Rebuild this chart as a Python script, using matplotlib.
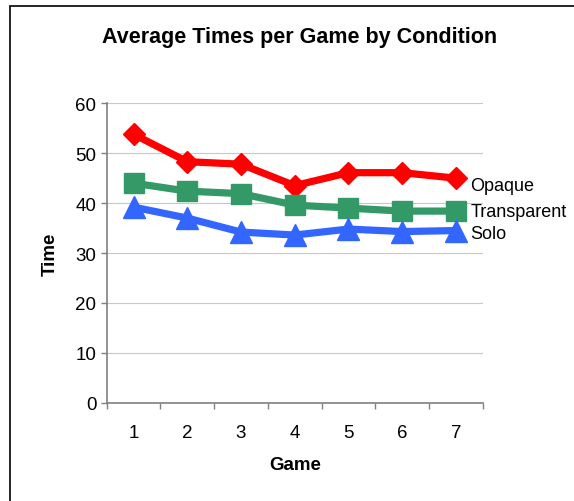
import matplotlib.pyplot as plt
from matplotlib.patches import Rectangle

plt.rcParams['font.family'] = ['Liberation Sans', 'DejaVu Sans']

games = [1, 2, 3, 4, 5, 6, 7]
opaque = [53.8, 48.3, 47.8, 43.5, 46.1, 46.1, 45.0]
transparent = [44.0, 42.4, 41.9, 39.6, 39.0, 38.4, 38.4]
solo = [39.2, 37.0, 34.2, 33.6, 34.8, 34.3, 34.5]

series = [
    ('Opaque', opaque, '#FF0000', 'D', 11.5, -5),
    ('Transparent', transparent, '#339966', 's', 15, 0),
    ('Solo', solo, '#3366FF', '^', 16, -2),
]

fig = plt.figure(figsize=(5.74, 5.02), dpi=100)
ax = fig.add_axes([0.1859, 0.1958, 0.655, 0.5964])

# frame round the chart area (right/bottom sides fall outside the picture)
fig.patches.append(Rectangle((10 / 574, -0.1), 1.2, 1 - 7 / 502 + 0.1,
                             transform=fig.transFigure, fill=False,
                             edgecolor='black', linewidth=1.2))

for name, vals, col, mk, ms, dy in series:
    ax.plot(games, vals, color=col, linewidth=5.2, marker=mk, markersize=ms,
            markeredgecolor=col, clip_on=False, zorder=3)
    ax.annotate(name, xy=(games[-1], vals[-1]), xytext=(10.5, dy),
                textcoords='offset points', va='center', ha='left',
                fontsize=13, annotation_clip=False)

ax.set_xlim(0.5, 7.5)
ax.set_ylim(0, 60)
ax.set_yticks(range(0, 61, 10))
ax.set_xticks([x + 0.5 for x in range(0, 8)])
ax.set_xticklabels([])
ax.set_xticks(games, minor=True)
ax.set_xticklabels([str(g) for g in games], minor=True)
ax.tick_params(axis='x', which='minor', length=0, pad=15, labelsize=13.5)
ax.tick_params(axis='x', which='major', length=4.5, width=1, color='#808080')
ax.tick_params(axis='y', length=4.5, width=1, color='#808080', labelsize=13.5, pad=3)

ax.grid(axis='y', color='#C8C8C8', linewidth=0.8)
ax.set_axisbelow(True)
for s in ['top', 'right']:
    ax.spines[s].set_visible(False)
for s in ['left', 'bottom']:
    ax.spines[s].set_color('#808080')
    ax.spines[s].set_linewidth(1.2)

ax.set_xlabel('Game', fontsize=13.5, fontweight='bold', labelpad=11)
ax.set_ylabel('Time', fontsize=13.5, fontweight='bold', labelpad=12)
fig.text(0.522, 0.926, 'Average Times per Game by Condition', ha='center',
         va='center', fontsize=15.5, fontweight='bold')

fig.savefig('out.png', dpi=100)
